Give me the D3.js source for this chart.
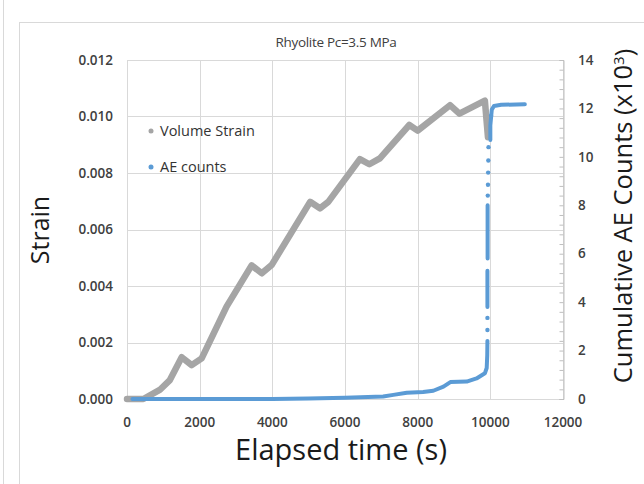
<!DOCTYPE html>
<html>
<head>
<meta charset="utf-8">
<script src="https://cdn.jsdelivr.net/npm/d3@7"></script>
<style>
  body { margin: 0; background: #fff; }
  svg { display: block; font-family: "Open Sans", sans-serif; }
</style>
</head>
<body>
<div id="chart"></div>
<script>
// volume strain
const strainTime = [0, 450, 900, 1180, 1505, 1780, 2055, 2740, 3430, 3710, 3980, 5040, 5310, 5540, 6410, 6670, 6960, 7770, 8000, 8890, 9150, 9850, 9935];
const strainVal  = [0, 0, 0.00032, 0.00067, 0.00148, 0.0012, 0.00144, 0.00327, 0.00473, 0.00445, 0.00474, 0.00698, 0.00675, 0.00698, 0.00849, 0.00831, 0.00852, 0.0097, 0.0095, 0.0104, 0.0101, 0.01056, 0.00927];

// cumulative AE counts (x10^3), dense part drawn as a line, null = gap
const aeTime  = [150, 4000, 5000, 6000, 7050, 7330, 7700, 8150, 8430, 8710, 8900, 9350, 9620, 9850, 9900, 9915, 9920, 9920, 9920, 9920, 9925, 9925, 9925, 10000, 10000, 10000, 10040, 10100, 10300, 10950];
const aeCount = [0, 0, 0.02, 0.05, 0.1, 0.17, 0.26, 0.29, 0.34, 0.51, 0.7, 0.72, 0.85, 1.06, 1.28, 1.8, 2.4, null, 3.8, 5.3, null, 5.8, 8.0, null, 10.7, 11.3, 11.95, 12.1, 12.15, 12.17];

// sparse AE points during the jump
const aeDotTime  = [9920, 9920, 9930, 9935, 9940, 9945, 9950, 10020];
const aeDotCount = [2.85, 3.35, 8.4, 8.85, 9.35, 9.85, 10.4, 11.7];

const xTicks = [0, 2000, 4000, 6000, 8000, 10000, 12000];
const yTicks = [0, 0.002, 0.004, 0.006, 0.008, 0.010, 0.012];
const y2Ticks = [0, 2, 4, 6, 8, 10, 12, 14];

const width = 644, height = 484;
const svg = d3.select("#chart").append("svg")
  .attr("width", width)
  .attr("height", height);

// frame lines
svg.append("line").attr("x1", 3.5).attr("x2", 3.5).attr("y1", 0).attr("y2", height)
  .attr("stroke", "#d9d9d9");
svg.append("rect").attr("x", 19.5).attr("y", 22.5).attr("width", 700).attr("height", 600)
  .attr("fill", "none").attr("stroke", "#d9d9d9");

let x = d3.scaleLinear().domain([0, 12000]).range([127, 563]);
let y = d3.scaleLinear().domain([0, 0.012]).range([399, 60]);
let y2 = d3.scaleLinear().domain([0, 14]).range([399, 60]);

// grid
svg.append("g").selectAll("line").data(yTicks).enter().append("line")
  .attr("x1", x(0)).attr("x2", x(12000))
  .attr("y1", d => Math.round(y(d)) + 0.5).attr("y2", d => Math.round(y(d)) + 0.5)
  .attr("stroke", "#d9d9d9");
svg.append("g").selectAll("line").data(xTicks).enter().append("line")
  .attr("y1", y(0)).attr("y2", y(0.012))
  .attr("x1", d => Math.round(x(d)) + 0.5).attr("x2", d => Math.round(x(d)) + 0.5)
  .attr("stroke", "#d9d9d9");

// right axis with minor ticks inside
let y2Axis = d3.axisRight(y2).tickValues(d3.range(0, 14.01, 0.4)).tickSize(-4).tickFormat("");
svg.append("g")
  .attr("transform", "translate(" + (Math.round(x(12000)) + 0.5) + ",0)")
  .call(y2Axis)
  .call(g => g.selectAll("line, path").attr("stroke", "#bfbfbf"));

// tick labels
let tickStyle = sel => sel.attr("font-size", 13.5).attr("font-weight", 600).attr("fill", "#404040");
svg.append("g").selectAll("text").data(yTicks).enter().append("text")
  .attr("x", 113).attr("y", d => y(d)).attr("dy", "0.35em")
  .attr("text-anchor", "end").call(tickStyle)
  .text(d => d3.format(".3f")(d));
svg.append("g").selectAll("text").data(xTicks).enter().append("text")
  .attr("x", d => x(d)).attr("y", 422).attr("dy", "0.35em")
  .attr("text-anchor", "middle").call(tickStyle)
  .text(d => d);
svg.append("g").selectAll("text").data(y2Ticks).enter().append("text")
  .attr("x", 578).attr("y", d => y2(d)).attr("dy", "0.35em")
  .attr("text-anchor", "start").call(tickStyle)
  .text(d => d);

// strain line
let strainPts = strainTime.map((t, i) => [t, strainVal[i]]);
svg.append("path").datum(strainPts)
  .attr("d", d3.line().x(d => x(d[0])).y(d => y(d[1])))
  .attr("fill", "none").attr("stroke", "#a5a5a5")
  .attr("stroke-width", 6.5).attr("stroke-linejoin", "round").attr("stroke-linecap", "round");

// AE counts
let aePts = aeTime.map((t, i) => [t, aeCount[i]]);
svg.append("path").datum(aePts)
  .attr("d", d3.line().defined(d => d[1] != null).x(d => x(d[0])).y(d => y2(d[1])))
  .attr("fill", "none").attr("stroke", "#5b9bd5")
  .attr("stroke-width", 4).attr("stroke-linejoin", "round").attr("stroke-linecap", "round");
svg.append("g").selectAll("circle").data(aeDotTime).enter().append("circle")
  .attr("cx", d => x(d)).attr("cy", (d, i) => y2(aeDotCount[i]))
  .attr("r", 2.2).attr("fill", "#5b9bd5");

// title
svg.append("text").attr("x", 336).attr("y", 42).attr("dy", "0.35em")
  .attr("text-anchor", "middle").attr("font-size", 13.5).attr("fill", "#404040")
  .attr("letter-spacing", -0.3)
  .text("Rhyolite Pc=3.5 MPa");

// axis titles
svg.append("text").attr("transform", "translate(40,230) rotate(-90)").attr("dy", "0.35em")
  .attr("text-anchor", "middle").attr("font-size", 25).attr("fill", "#1a1a1a")
  .text("Strain");
svg.append("text").attr("x", 341).attr("y", 450).attr("dy", "0.35em")
  .attr("text-anchor", "middle").attr("font-size", 29).attr("fill", "#1a1a1a")
  .text("Elapsed time (s)");
let rt = svg.append("text").attr("transform", "translate(623,216) rotate(-90)").attr("dy", "0.35em")
  .attr("text-anchor", "middle").attr("font-size", 25.5).attr("fill", "#1a1a1a");
rt.append("tspan").text("Cumulative AE Counts (x10");
rt.append("tspan").attr("font-size", 15).attr("dy", "-0.5em").text("3");
rt.append("tspan").attr("dy", "0.35em").text(")");

// legend
let legend = [["Volume Strain", "#a5a5a5"], ["AE counts", "#5b9bd5"]];
let lg = svg.append("g").selectAll("g").data(legend).enter().append("g")
  .attr("transform", (d, i) => "translate(151," + (131 + i * 36) + ")");
lg.append("circle").attr("r", 2.5).attr("fill", d => d[1]);
lg.append("text").attr("x", 9).attr("dy", "0.35em").attr("font-size", 14.5).attr("fill", "#333")
  .text(d => d[0]);
</script>
</body>
</html>
